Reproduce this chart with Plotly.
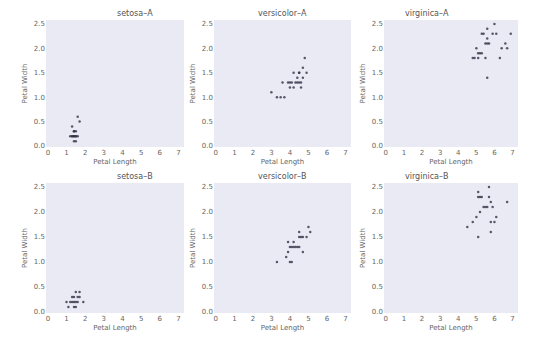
import plotly.graph_objects as go

species = ["setosa", "versicolor", "virginica"]
groups = ["A", "B"]

# Petal Length / Petal Width per panel
setosa_A_len = [1.6, 1.7, 1.3, 1.4, 1.5, 1.3, 1.4, 1.5, 1.6, 1.4, 1.5, 1.2, 1.4, 1.3, 1.5, 1.4]
setosa_A_wid = [0.6, 0.5, 0.4, 0.3, 0.3, 0.2, 0.2, 0.2, 0.2, 0.1, 0.2, 0.2, 0.2, 0.2, 0.1, 0.3]
setosa_B_len = [1.5, 1.7, 1.6, 1.4, 1.3, 1.5, 1.4, 1.6, 1.2, 1.1, 1.0, 1.9, 1.7, 1.5, 1.4, 1.3]
setosa_B_wid = [0.4, 0.4, 0.3, 0.3, 0.3, 0.2, 0.2, 0.2, 0.2, 0.1, 0.2, 0.2, 0.3, 0.1, 0.1, 0.2]

versicolor_A_len = [4.8, 4.7, 4.2, 4.5, 4.4, 4.7, 3.6, 3.9, 4.1, 4.4, 4.6, 4.0, 4.3, 4.5, 4.0, 4.2, 4.6, 3.0, 3.3, 3.5, 3.7, 4.5, 4.9]
versicolor_A_wid = [1.8, 1.6, 1.5, 1.5, 1.4, 1.4, 1.3, 1.3, 1.3, 1.3, 1.3, 1.3, 1.3, 1.3, 1.2, 1.2, 1.2, 1.1, 1.0, 1.0, 1.0, 1.5, 1.5]
versicolor_B_len = [5.0, 5.1, 4.5, 4.6, 4.7, 4.9, 3.9, 4.1, 4.2, 4.3, 4.4, 4.5, 4.7, 3.9, 3.8, 3.3, 4.0, 4.1, 4.5, 4.0, 4.2]
versicolor_B_wid = [1.7, 1.6, 1.6, 1.5, 1.5, 1.5, 1.4, 1.3, 1.3, 1.3, 1.3, 1.3, 1.2, 1.2, 1.1, 1.0, 1.0, 1.0, 1.5, 1.3, 1.4]

virginica_A_len = [5.6, 6.0, 6.9, 5.3, 5.4, 6.1, 5.9, 5.6, 5.6, 5.5, 5.7, 6.6, 6.4, 6.7, 5.0, 5.1, 5.2, 4.8, 4.9, 5.1, 5.5, 6.3, 5.6, 5.3]
virginica_A_wid = [1.4, 2.5, 2.3, 2.3, 2.3, 2.3, 2.3, 2.4, 2.2, 2.1, 2.1, 2.1, 2.0, 2.0, 2.0, 1.9, 1.9, 1.8, 1.8, 1.8, 1.8, 1.8, 2.1, 1.9]
virginica_B_len = [5.7, 5.1, 5.1, 5.2, 5.3, 5.7, 5.8, 6.7, 5.4, 5.9, 5.2, 5.0, 4.8, 4.5, 5.8, 6.0, 6.1, 5.8, 5.1, 5.6, 5.5]
virginica_B_wid = [2.5, 2.4, 2.3, 2.3, 2.3, 2.3, 2.2, 2.2, 2.1, 2.1, 2.0, 1.9, 1.8, 1.7, 1.8, 1.8, 1.9, 1.6, 1.5, 2.1, 2.1]

panel_data = {
    ("setosa", "A"): (setosa_A_len, setosa_A_wid),
    ("versicolor", "A"): (versicolor_A_len, versicolor_A_wid),
    ("virginica", "A"): (virginica_A_len, virginica_A_wid),
    ("setosa", "B"): (setosa_B_len, setosa_B_wid),
    ("versicolor", "B"): (versicolor_B_len, versicolor_B_wid),
    ("virginica", "B"): (virginica_B_len, virginica_B_wid),
}

x_ticks = [0, 1, 2, 3, 4, 5, 6, 7]
y_ticks = [0.0, 0.5, 1.0, 1.5, 2.0, 2.5]
y_tick_text = ["0.0", "0.5", "1.0", "1.5", "2.0", "2.5"]

W, H = 557, 345
col_px = [(38, 176), (206, 343), (376, 510)]
row_px = [(12, 139), (175, 305)]

fig = go.Figure()
font_col = "#666666"
idx = 0
for r, g in enumerate(groups):
    for c, sp in enumerate(species):
        idx += 1
        sfx = "" if idx == 1 else str(idx)
        xs, ys = panel_data[(sp, g)]
        fig.add_trace(go.Scatter(
            x=xs, y=ys, mode="markers",
            marker=dict(size=2.5, color="rgba(50,50,70,0.8)"),
            xaxis="x" + sfx, yaxis="y" + sfx, showlegend=False))
        x0, x1 = col_px[c]
        y0, y1 = row_px[r]
        xd = [x0 / W, x1 / W]
        yd = [1 - y1 / H, 1 - y0 / H]
        common = dict(showgrid=False, automargin=False,
                      zeroline=False, showline=False, ticks="",
                      tickfont=dict(size=7, color=font_col, family="DejaVu Sans"))
        fig.layout["xaxis" + sfx] = dict(
            domain=xd, anchor="y" + sfx, range=[-0.1, 7.3],
            tickvals=x_ticks,
            title=dict(text="Petal Length", standoff=3,
                       font=dict(size=7, color=font_col, family="DejaVu Sans")),
            **common)
        fig.layout["yaxis" + sfx] = dict(
            domain=yd, anchor="x" + sfx, range=[-0.02, 2.58],
            tickvals=y_ticks, ticktext=y_tick_text,
            title=dict(text="Petal Width", standoff=5,
                       font=dict(size=7, color=font_col, family="DejaVu Sans")),
            **common)
        fig.add_annotation(
            x=(xd[0] + xd[1]) / 2, y=yd[1], xref="paper", yref="paper",
            text=f"{sp}–{g}", showarrow=False, yanchor="bottom", yshift=0,
            font=dict(size=8, color="#555555", family="DejaVu Sans"))

fig.update_layout(
    width=W, height=H,
    margin=dict(l=0, r=0, t=0, b=0),
    paper_bgcolor="white",
    plot_bgcolor="#E9EAF4",
)
fig.write_html("out.html")
